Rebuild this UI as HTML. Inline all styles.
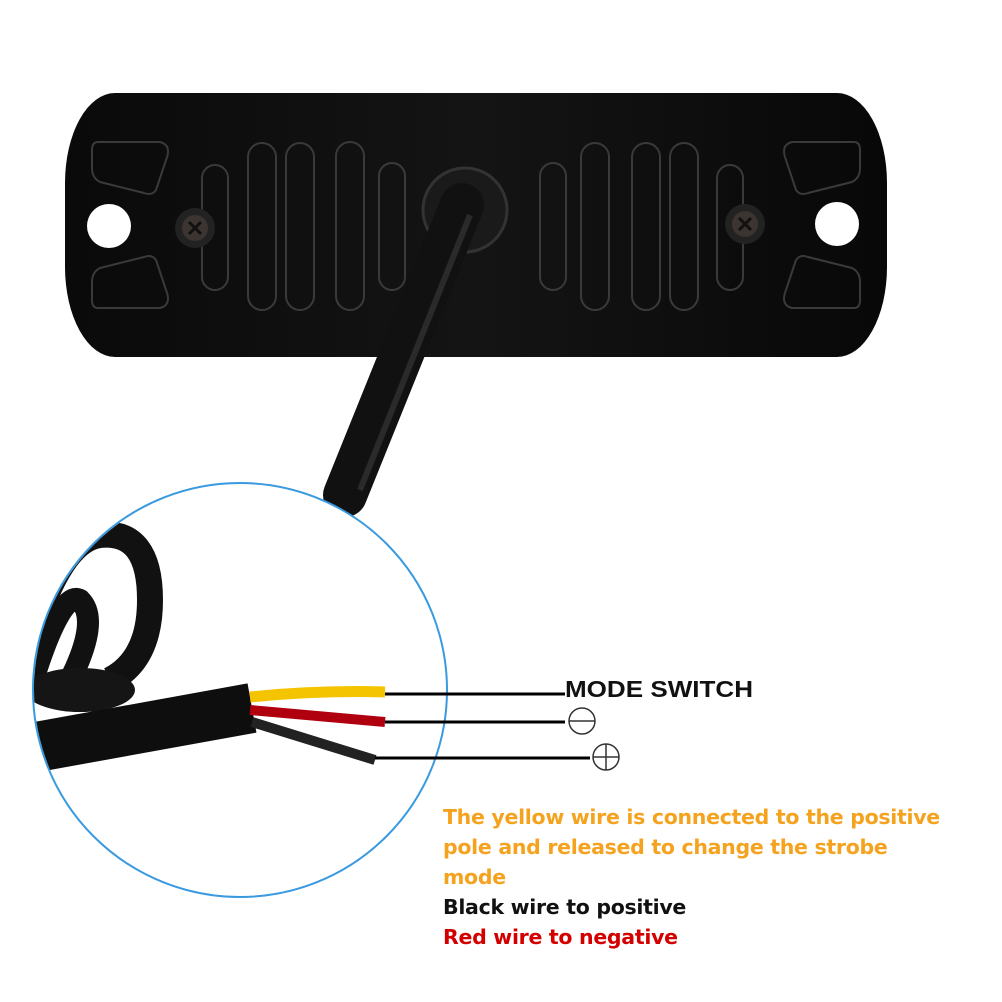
<!DOCTYPE html>
<html><head><style>
body{margin:0;width:1002px;height:1002px;background:#fff;overflow:hidden;position:relative;font-family:"Liberation Sans",sans-serif}
.t{position:absolute;left:443px;font-weight:bold;font-size:20.5px;line-height:30px;font-family:"DejaVu Sans","Liberation Sans",sans-serif;letter-spacing:-0.3px}
</style></head><body>
<svg width="1002" height="1002" style="position:absolute;left:0;top:0">
<defs>
<linearGradient id="pl" x1="0" x2="1"><stop offset="0" stop-color="#0a0a0a"/><stop offset="0.5" stop-color="#141414"/><stop offset="1" stop-color="#080808"/></linearGradient>
</defs>
<rect x="65" y="93" width="822" height="264" rx="50" ry="90" fill="url(#pl)"/>
<g fill="none" stroke="#3a3a3a" stroke-width="2">
<rect x="202" y="165" width="26" height="125" rx="13"/>
<rect x="248" y="143" width="28" height="167" rx="14"/>
<rect x="286" y="143" width="28" height="167" rx="14"/>
<rect x="336" y="142" width="28" height="168" rx="14"/>
<rect x="379" y="163" width="26" height="127" rx="13"/>
<rect x="540" y="163" width="26" height="127" rx="13"/>
<rect x="581" y="143" width="28" height="167" rx="14"/>
<rect x="632" y="143" width="28" height="167" rx="14"/>
<rect x="670" y="143" width="28" height="167" rx="14"/>
<rect x="717" y="165" width="26" height="125" rx="13"/>
<path d="M98 142 L160 142 Q172 145 166 160 L156 190 Q152 196 144 193 L100 182 Q92 178 92 168 L92 150 Q92 142 98 142Z"/>
<path d="M98 308 L160 308 Q172 305 166 290 L156 260 Q152 254 144 257 L100 268 Q92 272 92 282 L92 300 Q92 308 98 308Z"/>
<path d="M854 142 L792 142 Q780 145 786 160 L796 190 Q800 196 808 193 L852 182 Q860 178 860 168 L860 150 Q860 142 854 142Z"/>
<path d="M854 308 L792 308 Q780 305 786 290 L796 260 Q800 254 808 257 L852 268 Q860 272 860 282 L860 300 Q860 308 854 308Z"/>
</g>
<circle cx="109" cy="226" r="22" fill="#fff"/>
<circle cx="837" cy="224" r="22" fill="#fff"/>
<circle cx="195" cy="228" r="20" fill="#222"/><circle cx="195" cy="228" r="13" fill="#3b3430"/>
<path d="M189 222l12 12M201 222l-12 12" stroke="#111" stroke-width="3"/>
<circle cx="745" cy="224" r="20" fill="#222"/><circle cx="745" cy="224" r="13" fill="#3b3430"/>
<path d="M739 218l12 12M751 218l-12 12" stroke="#111" stroke-width="3"/>
<circle cx="465" cy="210" r="42" fill="#1a1a1a" stroke="#333" stroke-width="3"/>
<path d="M462 205 L345 495" stroke="#111" stroke-width="44" stroke-linecap="round"/>
<path d="M470 215 L360 490" stroke="#2a2a2a" stroke-width="6"/>
<circle cx="240" cy="690" r="207" fill="#fff" stroke="#3a9ae0" stroke-width="2"/>
<clipPath id="cc"><circle cx="240" cy="690" r="206"/></clipPath>
<g clip-path="url(#cc)">
<path d="M30 640 Q60 540 100 535 Q150 530 150 600 Q150 660 110 680" stroke="#111" stroke-width="26" fill="none"/>
<path d="M30 690 Q60 590 80 600 Q100 620 70 680" stroke="#111" stroke-width="22" fill="none"/>
<ellipse cx="80" cy="690" rx="55" ry="22" fill="#151515"/>
<path d="M20 750 L252 708" stroke="#0e0e0e" stroke-width="50"/>
</g>
<path d="M250 697 Q320 690 385 692" stroke="#f5c400" stroke-width="11" fill="none"/>
<path d="M250 710 Q320 716 385 722" stroke="#b00010" stroke-width="10" fill="none"/>
<path d="M252 722 L375 760" stroke="#222" stroke-width="10"/>
<g stroke="#000" stroke-width="3">
<line x1="385" y1="694" x2="565" y2="694"/>
<line x1="385" y1="722" x2="565" y2="722"/>
<line x1="375" y1="758" x2="590" y2="758"/>
</g>
<g stroke="#333" stroke-width="1.5" fill="none">
<circle cx="582" cy="721" r="13"/><line x1="569" y1="721" x2="595" y2="721"/>
<circle cx="606" cy="757" r="13"/><line x1="593" y1="757" x2="619" y2="757"/><line x1="606" y1="744" x2="606" y2="770"/>
</g>
<text x="565" y="697" font-family="Liberation Sans" font-size="23" font-weight="bold" fill="#111" textLength="188" lengthAdjust="spacingAndGlyphs">MODE SWITCH</text>
</svg>
<div class="t" style="top:802px;color:#f5a31f">The yellow wire is connected to the positive<br>pole and released to change the strobe<br>mode</div>
<div class="t" style="top:892px;color:#111">Black wire to positive</div>
<div class="t" style="top:922px;color:#d40000">Red wire to negative</div>
</body></html>
